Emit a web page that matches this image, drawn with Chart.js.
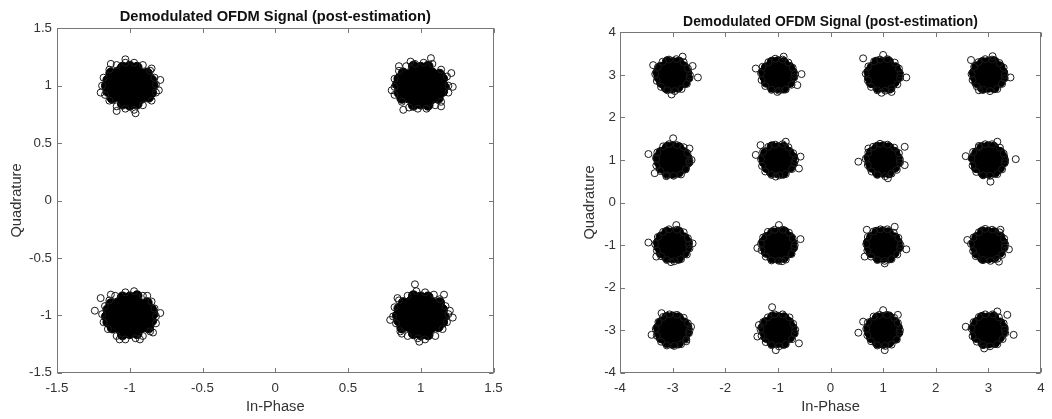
<!DOCTYPE html>
<html>
<head>
<meta charset="utf-8">
<script src="https://cdn.jsdelivr.net/npm/chart.js@4/dist/chart.umd.min.js"></script>
<style>
  html, body { margin: 0; padding: 0; background: #fff; }
  #wrap { position: relative; width: 1052px; height: 419px; overflow: hidden; }
  .panel { position: absolute; top: 0; height: 419px; }
  #p1 { left: 0; width: 520px; }
  #p2 { left: 520px; width: 532px; }
</style>
</head>
<body>
<div id="wrap">
  <div class="panel" id="p1"><canvas id="c1" width="520" height="419"></canvas></div>
  <div class="panel" id="p2"><canvas id="c2" width="532" height="419"></canvas></div>
</div>
<script>
// ---- QPSK: ideal symbols and received error vectors (hundredths of a unit, dI,dQ pairs) ----
const qpskI = [-1, 1, -1, 1];
const qpskQ = [1, 1, -1, -1];

const qpskErrNW = [
  -5,16, 0,17, 5,16,
  -13,11, -8,12, -3,11, 2,10, 7,11, 12,11,
  -15,5, -10,6, -5,5, 0,6, 5,5, 10,6, 15,5,
  -16,0, -12,1, -7,0, -2,-1, 3,0, 8,1, 13,-1, 16,0,
  -15,-5, -10,-6, -5,-5, 0,-6, 5,-5, 10,-5, 15,-6,
  -12,-11, -7,-10, -2,-11, 3,-12, 8,-11, 13,-10,
  -5,-16, 0,-17, 5,-16,
  18,1, 17,7, 14,13, 9,18, 3,20, -3,20, -9,18, -14,14, -18,7, -19,0,
  -17,-8, -14,-13, -9,-18, -3,-20, 3,-21, 9,-17, 15,-13, 18,-6,
  -3,23, -13,19, 21,5, 4,-24, -9,-22, -20,-6, 20,-4, 15,15
];
const qpskErrNE = [
  -5,17, 0,16, 5,17,
  -12,11, -7,10, -2,11, 3,12, 8,11, 13,10,
  -15,6, -10,5, -5,6, 0,5, 5,6, 10,5, 15,6,
  -16,1, -12,0, -7,1, -2,0, 3,-1, 8,0, 13,1, 16,-1,
  -15,-6, -10,-5, -5,-6, 0,-5, 5,-6, 10,-6, 15,-5,
  -13,-11, -8,-11, -3,-10, 2,-11, 7,-12, 12,-11,
  -5,-17, 0,-16, 5,-17,
  19,0, 18,8, 14,14, 8,19, 2,20, -4,19, -10,17, -15,13, -18,6, -18,-1,
  -18,-8, -13,-14, -8,-19, -2,-20, 4,-20, 10,-17, 14,-14, 19,-6,
  7,24, -15,17, -20,-4, 21,11, 22,-1, -12,-21, 14,-18, -7,21
];
const qpskErrSW = [
  -5,16, 0,16, 5,17,
  -13,10, -8,11, -3,12, 2,11, 7,10, 12,11,
  -15,5, -10,5, -5,6, 0,5, 5,6, 10,5, 15,5,
  -16,-1, -12,0, -7,-1, -2,1, 3,0, 8,-1, 13,0, 16,1,
  -15,-6, -10,-5, -5,-6, 0,-5, 5,-5, 10,-6, 15,-5,
  -12,-11, -7,-12, -2,-11, 3,-10, 8,-11, 13,-11,
  -5,-17, 0,-16, 5,-16,
  18,-1, 17,6, 15,12, 9,17, 3,21, -3,20, -10,17, -14,13, -17,8, -19,1,
  -18,-6, -15,-12, -9,-18, -3,-21, 4,-20, 9,-18, 14,-14, 18,-7,
  -24,4, -20,15, 16,-15, -7,-21, 7,-21, 12,17, -13,18, 21,2
];
const qpskErrSE = [
  -5,17, 0,16, 5,16,
  -12,11, -7,12, -2,11, 3,10, 8,11, 13,11,
  -15,6, -10,5, -5,5, 0,6, 5,5, 10,6, 15,5,
  -16,0, -12,-1, -7,0, -2,1, 3,0, 8,1, 13,0, 16,-1,
  -15,-5, -10,-6, -5,-5, 0,-5, 5,-6, 10,-5, 15,-6,
  -13,-11, -8,-10, -3,-11, 2,-12, 7,-11, 12,-10,
  -5,-16, 0,-17, 5,-17,
  19,1, 17,8, 13,14, 9,18, 3,20, -3,21, -9,17, -15,13, -18,7, -19,-1,
  -17,-7, -14,-14, -9,-18, -2,-20, 3,-21, 10,-18, 15,-12, 18,-6,
  -4,27, -21,-4, -1,-23, 22,-2, 16,18, -16,15, 20,4, -13,-16
];

// ---- 16-QAM: ideal symbols (row by row, top to bottom) and received error vectors ----
const qamI = [-3, -1, 1, 3, -3, -1, 1, 3, -3, -1, 1, 3, -3, -1, 1, 3];
const qamQ = [3, 3, 3, 3, 1, 1, 1, 1, -1, -1, -1, -1, -3, -3, -3, -3];

const qamErr_m3_p3 = [
  -10,31, 1,29, 12,30, -23,18, -12,19, -1,17, 10,18, 21,19,
  -28,6, -17,7, -6,5, 5,6, 16,7, 27,5, -26,-6, -15,-5, -4,-7, 7,-6, 18,-5, 28,-7,
  -21,-18, -10,-19, 1,-17, 12,-18, 23,-18, -12,-30, -1,-31, 10,-29,
  33,-1, 29,15, 21,30, 7,37, -7,36, -19,31, -28,18, -33,2, -30,-14, -22,-28,
  -10,-36, 4,-38, 17,-33, 27,-21, 32,-8,
  48,-6, 38,21, -2,-46, -37,23, 19,43
];
const qamErr_m1_p3 = [
  -11,30, 0,31, 11,29, -22,17, -11,18, 0,19, 11,17, 22,18,
  -27,6, -16,5, -5,7, 6,6, 17,5, 27,7, -25,-5, -14,-6, -3,-5, 8,-7, 19,-6, 27,-5,
  -22,-17, -11,-18, 0,-19, 11,-17, 22,-18, -11,-29, 0,-30, 11,-31,
  32,2, 28,17, 20,29, 9,36, -5,38, -18,30, -29,19, -32,4, -31,-12, -24,-26,
  -12,-35, 2,-37, 15,-34, 26,-23, 31,-6,
  45,2, 37,-24, -42,15, -1,-40, 11,43
];
const qamErr_p1_p3 = [
  -12,30, -1,29, 10,31, -21,18, -10,17, 1,18, 12,19, 23,17,
  -27,7, -16,6, -5,5, 6,7, 17,6, 28,5, -26,-6, -15,-7, -4,-5, 7,-6, 18,-7, 27,-6,
  -23,-18, -12,-17, -1,-19, 10,-18, 21,-17, -10,-30, 1,-29, 12,-31,
  33,1, 30,15, 22,29, 8,37, -6,36, -17,32, -28,20, -33,3, -29,-13, -23,-28,
  -11,-36, 4,-37, 16,-32, 27,-22, 32,-7,
  -38,39, 44,-6, 0,47, -3,-42, 16,-40
];
const qamErr_p3_p3 = [
  -11,29, 0,30, 11,31, -22,19, -11,18, 0,17, 11,18, 22,19,
  -27,5, -16,6, -5,7, 6,5, 17,6, 27,6, -25,-6, -14,-5, -3,-6, 8,-5, 19,-7, 27,-6,
  -22,-18, -11,-17, 0,-18, 11,-19, 22,-17, -11,-31, 0,-29, 11,-30,
  31,0, 29,17, 21,28, 7,36, -6,37, -19,30, -27,19, -32,2, -30,-12, -22,-27,
  -10,-35, 3,-38, 17,-33, 26,-21, 31,-8,
  -33,35, 42,-6, 8,44, -18,-36
];
const qamErr_m3_p1 = [
  -10,30, 1,31, 12,29, -22,18, -11,17, 0,18, 11,19, 22,17,
  -28,6, -17,5, -6,6, 5,7, 16,5, 27,6, -25,-7, -14,-6, -3,-5, 8,-6, 19,-5, 28,-6,
  -22,-19, -11,-18, 0,-17, 11,-18, 22,-19, -11,-30, 0,-31, 11,-29,
  32,-1, 28,16, 21,30, 8,35, -7,37, -18,32, -29,18, -31,3, -31,-13, -23,-26,
  -11,-36, 2,-37, 16,-34, 25,-22, 32,-6,
  -46,14, -34,-31, 1,51, 32,27, 36,0, -12,-38
];
const qamErr_m1_p1 = [
  -11,31, 0,29, 11,30, -23,17, -12,18, -1,19, 10,17, 21,18,
  -27,5, -16,7, -5,6, 6,5, 17,7, 28,6, -26,-5, -15,-6, -4,-7, 7,-5, 18,-6, 27,-7,
  -21,-18, -10,-17, 1,-19, 12,-18, 23,-17, -12,-29, -1,-30, 10,-31,
  33,0, 29,16, 20,30, 9,37, -5,36, -18,31, -28,20, -32,2, -30,-14, -24,-27,
  -12,-35, 3,-36, 15,-33, 27,-21, 31,-7,
  -33,35, 40,-20, 43,8, -4,-39, 15,43, -42,12
];
const qamErr_p1_p1 = [
  -11,30, 0,31, 11,29, -22,18, -11,19, 0,17, 11,18, 22,18,
  -27,6, -16,6, -5,5, 6,7, 17,6, 27,5, -25,-6, -14,-5, -3,-6, 8,-7, 19,-5, 27,-6,
  -22,-17, -11,-18, 0,-18, 11,-19, 22,-17, -11,-30, 0,-29, 11,-30,
  32,1, 30,16, 21,29, 8,36, -6,38, -19,31, -28,18, -33,3, -29,-12, -22,-27,
  -11,-35, 4,-38, 16,-32, 26,-23, 32,-6,
  41,31, -47,-4, -28,27, 9,-43, 41,-12
];
const qamErr_p3_p1 = [
  -12,29, -1,31, 10,30, -22,17, -11,18, 0,19, 11,17, 22,18,
  -28,5, -17,6, -6,7, 5,6, 16,5, 27,7, -25,-6, -14,-7, -3,-5, 8,-6, 19,-6, 28,-5,
  -23,-18, -12,-19, -1,-17, 10,-18, 21,-19, -10,-31, 1,-30, 12,-29,
  32,0, 29,15, 22,29, 7,37, -6,37, -18,30, -29,19, -32,4, -30,-13, -23,-28,
  -10,-36, 3,-37, 17,-33, 26,-22, 31,-7,
  52,2, -43,9, 4,-51, 17,43, -18,33
];
const qamErr_m3_m1 = [
  -11,30, 0,29, 11,31, -22,19, -11,17, 0,18, 11,18, 22,17,
  -27,6, -16,5, -5,7, 6,6, 17,5, 28,6, -26,-5, -15,-6, -4,-6, 7,-7, 18,-5, 27,-6,
  -22,-18, -11,-19, 0,-17, 11,-18, 22,-18, -11,-29, 0,-30, 11,-31,
  31,1, 29,16, 21,30, 8,36, -7,37, -18,31, -28,19, -33,2, -30,-13, -22,-26,
  -11,-35, 3,-38, 16,-33, 27,-22, 32,-8,
  -46,6, 7,47, -31,-27, 38,4, -3,-40
];
const qamErr_m1_m1 = [
  -10,29, 1,30, 12,31, -21,18, -10,19, 1,17, 12,18, 23,18,
  -27,7, -16,6, -5,5, 6,6, 17,7, 27,5, -25,-6, -14,-5, -3,-7, 8,-6, 19,-6, 27,-7,
  -22,-17, -11,-18, 0,-19, 11,-17, 22,-18, -11,-30, 0,-31, 11,-29,
  32,0, 28,16, 21,29, 9,36, -6,36, -19,31, -28,18, -32,3, -31,-12, -23,-27,
  -12,-36, 2,-37, 15,-34, 26,-21, 31,-6,
  2,47, 43,14, -39,-7, 8,-38
];
const qamErr_p1_m1 = [
  -12,30, -1,31, 10,29, -22,18, -11,17, 0,18, 11,19, 22,17,
  -28,6, -17,7, -6,5, 5,6, 16,7, 27,6, -26,-7, -15,-6, -4,-5, 7,-6, 18,-7, 28,-5,
  -23,-18, -12,-17, -1,-18, 10,-19, 21,-18, -10,-30, 1,-29, 12,-30,
  33,0, 29,17, 20,29, 8,37, -5,37, -18,32, -29,19, -32,2, -30,-13, -23,-27,
  -11,-35, 3,-37, 16,-33, 27,-22, 32,-7,
  -35,-27, 44,-10, -31,36, 3,-43, 22,43
];
const qamErr_p3_m1 = [
  -11,31, 0,30, 11,29, -22,18, -11,19, 0,17, 11,18, 22,19,
  -27,5, -16,6, -5,6, 6,5, 17,7, 27,6, -25,-6, -14,-7, -3,-6, 8,-5, 19,-6, 27,-5,
  -22,-19, -11,-18, 0,-17, 11,-18, 22,-17, -11,-31, 0,-30, 11,-29,
  32,2, 30,15, 21,30, 7,36, -6,38, -18,30, -28,18, -33,3, -29,-14, -24,-26,
  -10,-35, 4,-37, 17,-32, 26,-23, 31,-6,
  23,36, 39,-10, 20,-39, -40,12
];
const qamErr_m3_m3 = [
  -11,30, 0,31, 11,29, -22,18, -11,17, 0,19, 11,18, 22,17,
  -27,6, -16,7, -5,5, 6,6, 17,5, 27,7, -26,-6, -15,-5, -4,-6, 7,-7, 18,-6, 27,-5,
  -22,-18, -11,-17, 0,-18, 11,-19, 22,-18, -11,-29, 0,-31, 11,-30,
  32,-1, 29,16, 21,29, 8,36, -6,37, -18,31, -27,19, -32,3, -30,-13, -22,-27,
  -11,-36, 3,-37, 16,-33, 26,-22, 31,-7,
  -40,-11, -21,40, 35,8, 26,-26
];
const qamErr_m1_m3 = [
  -10,31, 1,30, 12,29, -23,18, -12,17, -1,18, 10,19, 21,18,
  -28,6, -17,5, -6,6, 5,7, 16,6, 27,5, -25,-5, -14,-6, -3,-7, 8,-6, 19,-5, 28,-6,
  -22,-17, -11,-18, 0,-19, 11,-18, 22,-17, -11,-30, 0,-29, 11,-31,
  33,1, 29,15, 22,30, 9,37, -6,37, -19,30, -28,19, -33,2, -31,-13, -23,-28,
  -12,-35, 2,-38, 15,-33, 27,-21, 32,-8,
  -11,54, -36,12, -4,-47, 40,-31, -39,-15
];
const qamErr_p1_m3 = [
  -11,29, 0,30, 11,31, -22,17, -11,18, 0,17, 11,19, 22,18,
  -27,5, -16,6, -5,7, 6,6, 17,5, 27,6, -26,-6, -15,-7, -4,-5, 7,-6, 18,-6, 27,-7,
  -22,-18, -11,-19, 0,-18, 11,-17, 22,-19, -11,-30, 0,-31, 11,-29,
  32,0, 28,17, 21,29, 7,36, -7,36, -18,32, -29,18, -32,3, -30,-12, -23,-26,
  -11,-36, 4,-37, 16,-34, 26,-22, 31,-6,
  -47,-6, 0,47, 3,-47, 28,36, -38,20
];
const qamErr_p3_m3 = [
  -12,30, -1,29, 10,31, -22,18, -11,19, 0,17, 11,18, 22,17,
  -27,7, -16,5, -5,6, 6,7, 17,6, 28,5, -25,-6, -14,-5, -3,-6, 8,-7, 19,-6, 27,-5,
  -23,-17, -12,-18, -1,-19, 10,-18, 21,-17, -10,-31, 1,-30, 12,-29,
  31,1, 29,16, 20,30, 8,37, -6,37, -18,31, -28,19, -32,4, -30,-14, -22,-27,
  -10,-35, 3,-38, 17,-33, 27,-21, 32,-7,
  48,-11, 17,44, -8,-43, 36,36, -43,8
];

// ---- axis ticks ----
const qpskTicks = [-1.5, -1, -0.5, 0, 0.5, 1, 1.5];
const qpskTickLabels = ['-1.5', '-1', '-0.5', '0', '0.5', '1', '1.5'];
const qamTicks = [-4, -3, -2, -1, 0, 1, 2, 3, 4];
const qamTickLabels = ['-4', '-3', '-2', '-1', '0', '1', '2', '3', '4'];

const titleText = 'Demodulated OFDM Signal (post-estimation)';

// ---- build point clouds: symbol + error; the dense centre of each cluster is drawn solid ----
function buildCloud(symI, symQ, errSets, ax, ay) {
  const pts = [], fills = [], radii = [], edges = [];
  errSets.forEach((e, k) => {
    for (let j = 0; j < e.length; j += 2) {
      pts.push({ x: symI[k] + e[j] / 100, y: symQ[k] + e[j + 1] / 100 });
      const n = Math.pow(e[j] / ax, 2) + Math.pow(e[j + 1] / ay, 2);
      const dense = n <= 1.05;
      fills.push(dense ? '#000000' : 'rgba(255,255,255,0)');
      edges.push(dense ? '#000000' : '#1a1a1a');
      radii.push(dense ? 5 : 3.5);
    }
  });
  return { pts, fills, radii, edges };
}

const qpskCloud = buildCloud(qpskI, qpskQ, [qpskErrNW, qpskErrNE, qpskErrSW, qpskErrSE], 17, 19);
const qamCloud = buildCloud(qamI, qamQ, [
  qamErr_m3_p3, qamErr_m1_p3, qamErr_p1_p3, qamErr_p3_p3,
  qamErr_m3_p1, qamErr_m1_p1, qamErr_p1_p1, qamErr_p3_p1,
  qamErr_m3_m1, qamErr_m1_m1, qamErr_p1_m1, qamErr_p3_m1,
  qamErr_m3_m3, qamErr_m1_m3, qamErr_p1_m3, qamErr_p3_m3
], 30, 35);

// ---- box frame with inward tick marks on all four sides ----
const frameTicks = {
  id: 'frameTicks',
  afterDraw(chart) {
    const { ctx, chartArea: a, scales } = chart;
    const L = Math.round(a.left) + 0.5, R = Math.round(a.right) - 0.5;
    const T = Math.round(a.top) + 0.5, B = Math.round(a.bottom) - 0.5;
    const len = 4.5;
    ctx.save();
    ctx.strokeStyle = '#777777';
    ctx.lineWidth = 1;
    ctx.strokeRect(L, T, R - L, B - T);
    ctx.beginPath();
    scales.x.ticks.forEach(t => {
      const px = Math.round(scales.x.getPixelForValue(t.value)) + 0.5;
      ctx.moveTo(px, B); ctx.lineTo(px, B - len);
      ctx.moveTo(px, T); ctx.lineTo(px, T + len);
    });
    scales.y.ticks.forEach(t => {
      const py = Math.round(scales.y.getPixelForValue(t.value)) + 0.5;
      ctx.moveTo(L, py); ctx.lineTo(L + len, py);
      ctx.moveTo(R, py); ctx.lineTo(R - len, py);
    });
    ctx.stroke();
    ctx.restore();
  }
};

const FONT = "'Liberation Sans', Arial, Helvetica, sans-serif";
const TEXT = '#333333';

function makeChart(canvasId, cloud, ticks, labels, lim, geom) {
  return new Chart(document.getElementById(canvasId), {
    type: 'scatter',
    data: {
      datasets: [{
        data: cloud.pts,
        showLine: false,
        pointStyle: 'circle',
        pointRadius: cloud.radii,
        pointHoverRadius: cloud.radii,
        pointBorderWidth: 1,
        pointBorderColor: cloud.edges,
        pointBackgroundColor: cloud.fills
      }]
    },
    options: {
      responsive: false,
      animation: false,
      devicePixelRatio: 1,
      events: [],
      layout: { padding: { left: geom.padLeft, right: geom.padRight, top: 0, bottom: 0 } },
      plugins: {
        legend: { display: false },
        tooltip: { enabled: false },
        title: {
          display: true,
          text: titleText,
          fullSize: false,
          color: '#111111',
          font: { family: FONT, size: geom.titleSize, weight: 'bold', lineHeight: 1.2 },
          padding: { top: geom.titleTop, bottom: geom.titleBottom }
        }
      },
      scales: {
        x: {
          type: 'linear',
          min: lim[0], max: lim[1],
          afterBuildTicks: s => { s.ticks = ticks.map(v => ({ value: v })); },
          afterFit: s => { s.height = 46.3; },
          grid: { display: false, drawTicks: false },
          border: { display: false },
          ticks: {
            autoSkip: false, maxRotation: 0, padding: 7.3, color: TEXT,
            font: { family: FONT, size: 13.3, lineHeight: 1.2 },
            callback: (v, i) => labels[i]
          },
          title: {
            display: true, text: 'In-Phase', color: TEXT,
            font: { family: FONT, size: 14.67, lineHeight: 1.2 },
            padding: { top: 0, bottom: 3.2 }
          }
        },
        y: {
          type: 'linear',
          min: lim[0], max: lim[1],
          afterBuildTicks: s => { s.ticks = ticks.map(v => ({ value: v })); },
          afterFit: s => { s.width = geom.yWidth; },
          grid: { display: false, drawTicks: false },
          border: { display: false },
          ticks: {
            autoSkip: false, padding: geom.yTickPad, color: TEXT,
            font: { family: FONT, size: 13.3, lineHeight: 1.2 },
            callback: (v, i) => labels[i]
          },
          title: {
            display: true, text: 'Quadrature', color: TEXT,
            font: { family: FONT, size: 14.67, lineHeight: 1.2 },
            padding: { top: geom.yTitlePad, bottom: 0 }
          }
        }
      }
    },
    plugins: [frameTicks]
  });
}

makeChart('c1', qpskCloud, qpskTicks, qpskTickLabels, [-1.5, 1.5], {
  padLeft: 0, padRight: 26.5, yWidth: 57, yTickPad: 5, yTitlePad: 8.2,
  titleSize: 14.67, titleTop: 8.5, titleBottom: 2.2
});
makeChart('c2', qamCloud, qamTicks, qamTickLabels, [-4, 4], {
  padLeft: 50, padRight: 8, yWidth: 50, yTickPad: 4, yTitlePad: 11.2,
  titleSize: 13.9, titleTop: 13.4, titleBottom: 2.3
});
</script>
</body>
</html>
